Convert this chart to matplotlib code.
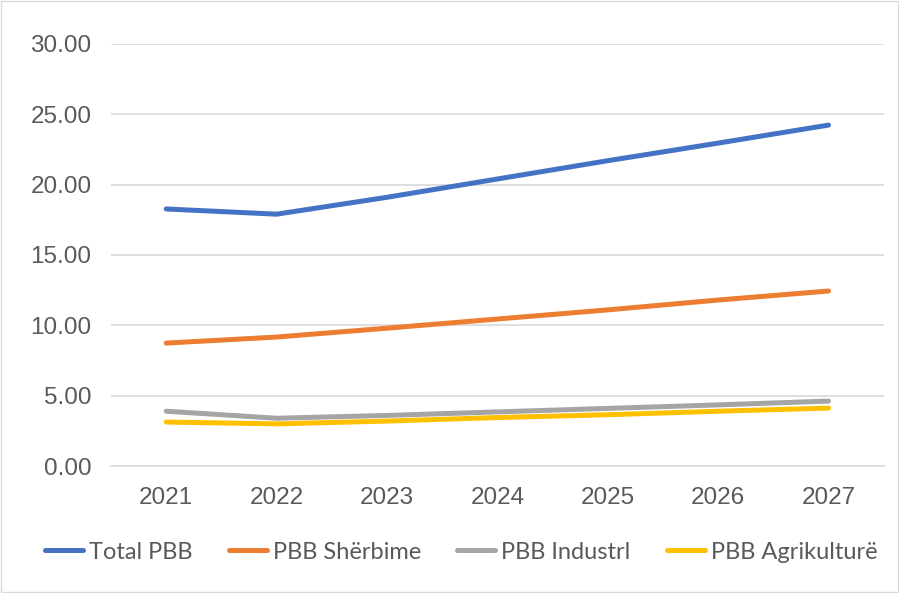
import matplotlib.pyplot as plt
from matplotlib.patches import Rectangle

years = ["2021", "2022", "2023", "2024", "2025", "2026", "2027"]
total_pbb = [18.27, 17.90, 19.10, 20.40, 21.70, 22.95, 24.23]
pbb_sherbime = [8.74, 9.17, 9.80, 10.45, 11.10, 11.80, 12.44]
pbb_industri = [3.90, 3.40, 3.60, 3.85, 4.10, 4.35, 4.62]
pbb_agrikulture = [3.13, 3.00, 3.20, 3.45, 3.65, 3.90, 4.12]

series = [
    ("Total PBB", total_pbb, "#4472C4"),
    ("PBB Shërbime", pbb_sherbime, "#ED7D31"),
    ("PBB Industrl", pbb_industri, "#A5A5A5"),
    ("PBB Agrikulturë", pbb_agrikulture, "#FFC000"),
]

fig = plt.figure(figsize=(8.99, 5.93), dpi=100)
ax = fig.add_axes([0.1235, 0.214, 0.8595, 0.712])

x = list(range(len(years)))
for label, values, color in series:
    ax.plot(x, values, color=color, linewidth=3.6, label=label, solid_capstyle="round")

ax.set_xlim(-0.5, len(years) - 0.5)
ax.set_ylim(0, 30)
ax.set_yticks([0, 5, 10, 15, 20, 25, 30])
ax.set_yticklabels([f"{v:.2f}" for v in [0, 5, 10, 15, 20, 25, 30]])
ax.set_xticks(x)
ax.set_xticklabels(years)

for spine in ["top", "right", "left"]:
    ax.spines[spine].set_visible(False)
ax.spines["bottom"].set_color("#D9D9D9")
ax.spines["bottom"].set_linewidth(1.2)

ax.grid(axis="y", color="#D9D9D9", linewidth=1.2)
ax.set_axisbelow(True)
ax.tick_params(axis="both", length=0, labelsize=17.5, labelcolor="#595959")
ax.tick_params(axis="x", pad=15)
ax.tick_params(axis="y", pad=14)
for t in ax.get_xticklabels() + ax.get_yticklabels():
    t.set_fontfamily(["Liberation Sans", "DejaVu Sans"])

leg = fig.legend(loc="center", bbox_to_anchor=(0.513, 0.069), ncol=4,
                 frameon=False, handlelength=1.6, columnspacing=1.55,
                 handletextpad=0.25,
                 prop={"family": ["Lato", "DejaVu Sans"], "size": 17})
for t in leg.get_texts():
    t.set_color("#595959")

fig.patches.append(Rectangle((0.001, 0.001), 0.998, 0.998, transform=fig.transFigure,
                             fill=False, edgecolor="#D9D9D9", linewidth=1))

fig.savefig("out.png", dpi=100)
